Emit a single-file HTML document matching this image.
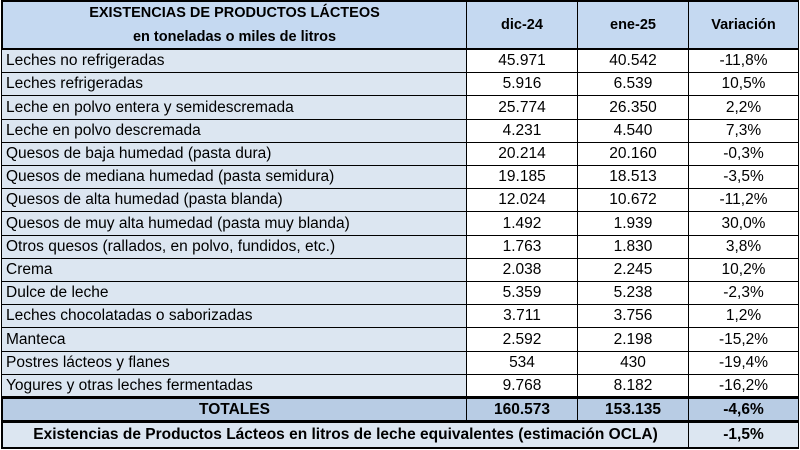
<!DOCTYPE html>
<html><head><meta charset="utf-8"><style>
body{margin:0;background:#fff;width:800px;height:450px;overflow:hidden;font-family:"Liberation Sans",sans-serif;}
.c{position:absolute;box-sizing:border-box;border:1px solid #000;font-size:15.5px;color:#000;display:flex;align-items:center;white-space:nowrap;}
.n{background:#dce6f1;padding-left:4px;}
.v{background:#fff;justify-content:center;}
.h{background:#c5d9f1;font-weight:bold;justify-content:center;font-size:14.5px;}
.t{background:#b8cce4;font-weight:bold;justify-content:center;}
</style></head><body>
<div id="tbl"></div>
<script>
const products=["Leches no refrigeradas","Leches refrigeradas","Leche en polvo entera y semidescremada","Leche en polvo descremada","Quesos de baja humedad (pasta dura)","Quesos de mediana humedad (pasta semidura)","Quesos de alta humedad (pasta blanda)","Quesos de muy alta humedad (pasta muy blanda)","Otros quesos (rallados, en polvo, fundidos, etc.)","Crema","Dulce de leche","Leches chocolatadas o saborizadas","Manteca","Postres lácteos y flanes","Yogures y otras leches fermentadas"];
const dic24=["45.971","5.916","25.774","4.231","20.214","19.185","12.024","1.492","1.763","2.038","5.359","3.711","2.592","534","9.768"];
const ene25=["40.542","6.539","26.350","4.540","20.160","18.513","10.672","1.939","1.830","2.245","5.238","3.756","2.198","430","8.182"];
const variation=["-11,8%","10,5%","2,2%","7,3%","-0,3%","-3,5%","-11,2%","30,0%","3,8%","10,2%","-2,3%","1,2%","-15,2%","-19,4%","-16,2%"];
const totals=["160.573","153.135","-4,6%"];
const tbl=document.getElementById('tbl');
const X=[1,466,577,688,798];
function cell(x,y,w,h,cls,html,name){
  const d=document.createElement('div');
  d.className='c '+cls;
  d.style.cssText=`left:${x}px;top:${y}px;width:${w}px;height:${h}px;`;
  d.innerHTML=html;
  
  
  tbl.appendChild(d);return d;
}
const hd=cell(X[0],0,X[1]-X[0]+1,50,'h','<div style="text-align:center;line-height:24px;width:100%">EXISTENCIAS DE PRODUCTOS LÁCTEOS<br>en toneladas o miles de litros</div>','header-title');
hd.style.borderWidth='2px 1px 2px 2px';
['dic-24','ene-25','Variación'].forEach((t,i)=>{const c=cell(X[i+1],0,X[i+2]-X[i+1]+1,50,'h',t,'header-'+t.toLowerCase());c.style.borderWidth='2px 1px 2px 1px';});
const top0=49,rh=(397-49)/15;
products.forEach((p,i)=>{
  const y=Math.round(top0+i*rh),h=Math.round(top0+(i+1)*rh)-y+1;
  cell(X[0],y,X[1]-X[0]+1,h,'n',p,'row-label');
  cell(X[1],y,X[2]-X[1]+1,h,'v',dic24[i],'value-dic24');
  cell(X[2],y,X[3]-X[2]+1,h,'v',ene25[i],'value-ene25');
  cell(X[3],y,X[4]-X[3]+1,h,'v',variation[i],'value-variation');
});
const tt=cell(X[0],396,X[1]-X[0]+1,27,'t','TOTALES','totals-label');tt.style.borderWidth='3px 1px 3px 2px';
totals.forEach((v,i)=>{const c=cell(X[i+1],396,X[i+2]-X[i+1]+1,27,'t',v,'totals-value');c.style.borderWidth='3px 1px 3px 1px';});
const l=cell(X[0],421,X[3]-X[0]+1,28,'t','Existencias de Productos Lácteos en litros de leche equivalentes (estimación OCLA)','equivalent-label');l.style.background='#dce6f1';l.style.borderWidth='2px 1px 2px 2px';
const lv=cell(X[3],421,X[4]-X[3]+1,28,'t','-1,5%','equivalent-variation');lv.style.background='#dce6f1';lv.style.borderWidth='2px 1px 2px 1px';
</script>
</body></html>
